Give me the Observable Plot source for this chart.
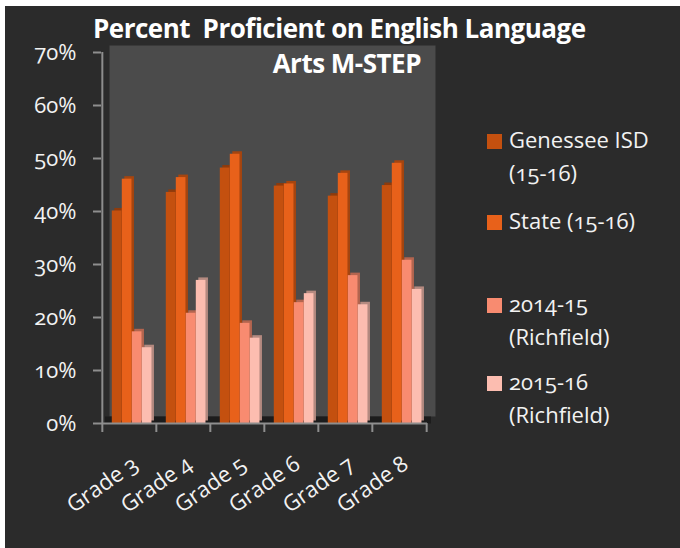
<!DOCTYPE html>
<html>
<head>
<meta charset="utf-8">
<script src="https://cdn.jsdelivr.net/npm/d3@7"></script>
<script src="https://cdn.jsdelivr.net/npm/@observablehq/plot@0.6"></script>
<style>
  html, body { margin: 0; padding: 0; background: #ffffff; }
  #wrap { position: absolute; left: 5px; top: 6px; width: 675px; height: 542px; background: #2b2b2b; overflow: hidden;
          font-family: "Open Sans", "Noto Sans", sans-serif; color: #f2f2f2;
          font-variant-numeric: oldstyle-nums; font-feature-settings: "onum" 1; }
  #wrap svg text { font-variant-numeric: oldstyle-nums; font-feature-settings: "onum" 1; }
  .title { position: absolute; font-weight: bold; font-size: 26px; line-height: 26px; white-space: pre; color: #ffffff; letter-spacing: -0.5px; }
  .leg { position: absolute; left: 482px; font-size: 22px; line-height: 33px; color: #f2f2f2; }
  .leg .sw { position: absolute; left: 0; width: 15px; height: 15px; }
  .leg .tx { position: absolute; left: 22px; white-space: nowrap; }
</style>
</head>
<body>
<div id="wrap"></div>
<script>
// ---- data ----
const grades = ["Grade 3", "Grade 4", "Grade 5", "Grade 6", "Grade 7", "Grade 8"];
const seriesNames = ["Genessee ISD (15-16)", "State (15-16)", "2014-15 (Richfield)", "2015-16 (Richfield)"];
const legendLines = [["Genessee ISD", "(15-16)"], ["State (15-16)"], ["2014-15", "(Richfield)"], ["2015-16", "(Richfield)"]];
const genesee  = [40.1, 43.6, 48.2, 44.8, 42.9, 44.9];
const state    = [46.1, 46.4, 50.8, 45.2, 47.2, 49.1];
const rich1415 = [17.3, 20.8, 18.9, 22.8, 27.9, 30.8];
const rich1516 = [14.3, 27.0, 16.1, 24.5, 22.4, 25.3];
const yTicks = [0, 10, 20, 30, 40, 50, 60, 70];
const titleLine1 = "Percent  Proficient on English Language";
const titleLine2 = "Arts M-STEP";

// ---- styling ----
const colors  = ["#c4500f", "#e8611a", "#f88b70", "#fcbdb0"];
const shadows = ["#8f3b0c", "#a6450f", "#b3654f", "#b48a80"];
const seriesValues = [genesee, state, rich1415, rich1516];

const W = 675, H = 542, mL = 96, mR = 253, mT = 46, mB = 125;
const bw = (W - mL - mR) / grades.length;
const barW = 10, gap0 = 9.8, depth = 2.5;

const rows = seriesNames.map((s, i) => grades.map((g, j) => ({grade: g, series: s, value: seriesValues[i][j]})));

const shadowMarks = rows.map((data, i) => {
  const il = gap0 + barW * i, ir = bw - il - barW;
  return Plot.barY(data, {x: "grade", y: "value", fill: shadows[i], insetLeft: il, insetRight: ir, dx: depth, dy: -depth});
});
const frontMarks = rows.map((data, i) => {
  const il = gap0 + barW * i, ir = bw - il - barW;
  return Plot.barY(data, {x: "grade", y: "value", fill: colors[i], insetLeft: il, insetRight: ir});
});

const axisGray = "#8e8e8e";
const chart = Plot.plot({
  width: W, height: H,
  marginLeft: mL, marginRight: mR, marginTop: mT, marginBottom: mB,
  style: {background: "transparent", fontFamily: "Open Sans, Noto Sans, sans-serif", color: "#f2f2f2", overflow: "visible"},
  x: {domain: grades, padding: 0, axis: null},
  y: {domain: [0, 70], axis: null},
  marks: [
    Plot.frame({fill: "#4b4b4b", dx: 8, dy: -7}),
    Plot.ruleY([0], {stroke: "#1c1c1c", strokeWidth: 7, dx: 4, dy: -3.5}),
    ...shadowMarks,
    ...frontMarks,
    Plot.ruleX([grades[0]], {y1: 0, y2: 70, stroke: axisGray, strokeWidth: 2, dx: -bw / 2}),
    Plot.ruleY([0], {stroke: axisGray, strokeWidth: 2}),
    Plot.axisY({ticks: yTicks, tickSize: 8, tickFormat: () => "", label: null, stroke: axisGray, strokeWidth: 2}),
    Plot.axisY({ticks: yTicks, tickSize: 0, tickPadding: 25, tickFormat: d => d + "%", label: null, fill: "#f2f2f2", fontSize: 22}),
    Plot.axisX({tickSize: 9, tickFormat: () => "", label: null, stroke: axisGray, strokeWidth: 2, dx: -bw / 2}),
    Plot.axisX({ticks: [grades[grades.length - 1]], tickSize: 9, tickFormat: () => "", label: null, stroke: axisGray, strokeWidth: 2, dx: bw / 2}),
    Plot.axisX({tickRotate: -35, tickSize: 0, tickPadding: 38, label: null, fill: "#f2f2f2", fontSize: 22, dx: 6})
  ]
});

const wrap = document.getElementById("wrap");
wrap.appendChild(chart);

// title
const t1 = document.createElement("div");
t1.className = "title"; t1.textContent = titleLine1;
t1.style.left = "88px"; t1.style.top = "9px";
wrap.appendChild(t1);
const t2 = document.createElement("div");
t2.className = "title"; t2.textContent = titleLine2;
t2.style.right = (675 - 416) + "px"; t2.style.top = "44px";
wrap.appendChild(t2);

// legend
const legTops = [117, 198, 281, 359];
legendLines.forEach((lines, i) => {
  const item = document.createElement("div");
  item.className = "leg"; item.style.top = legTops[i] + "px";
  const sw = document.createElement("div");
  sw.className = "sw"; sw.style.background = colors[i]; sw.style.top = "11px";
  item.appendChild(sw);
  lines.forEach((ln, k) => {
    const tx = document.createElement("div");
    tx.className = "tx"; tx.textContent = ln; tx.style.top = (k * 33) + "px";
    item.appendChild(tx);
  });
  wrap.appendChild(item);
});
</script>
</body>
</html>
